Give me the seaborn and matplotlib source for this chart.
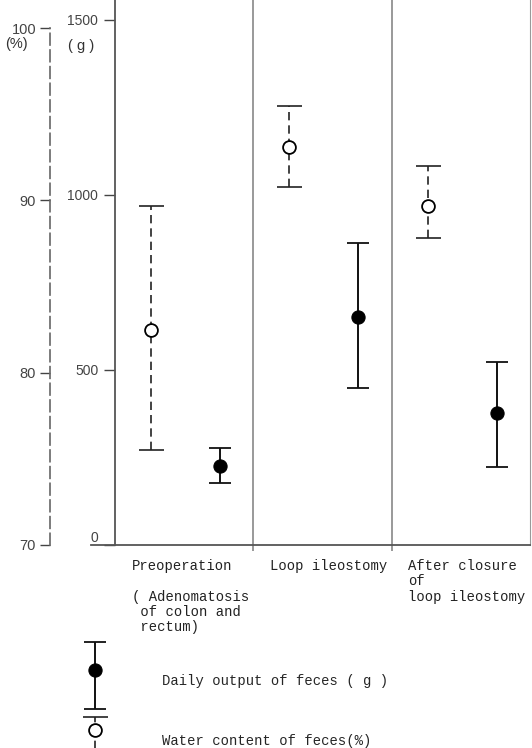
import matplotlib
matplotlib.use("Agg")
import matplotlib.pyplot as plt
import numpy as np
import pandas as pd
import seaborn as sns
from matplotlib.legend_handler import HandlerErrorbar, HandlerTuple

categories = [
    "Preoperation\n\n( Adenomatosis\n of colon and\n rectum)",
    "Loop ileostomy",
    "After closure\nof\nloop ileostomy",
]

# water content of feces (%)
water_mean = [82.5, 93.1, 89.7]
water_low = [75.5, 90.8, 87.8]
water_high = [89.7, 95.5, 92.0]

# daily output of feces (g)
output_mean = [226, 650, 376]
output_low = [177, 449, 224]
output_high = [277, 862, 524]

g_ticks = [0, 500, 1000, 1500]
pct_ticks = [70, 80, 90, 100]

sns.set_style("white")
plt.rcParams["font.family"] = ["Liberation Sans", "DejaVu Sans"]

W, H = 532, 748
fig = plt.figure(figsize=(W / 100, H / 100), dpi=100)
ax = fig.add_axes([115 / W, 203 / H, 415 / W, 545 / H])
ax.set_xlim(0, 3)
ax.set_ylim(0, 1557)

idx = np.arange(len(categories))
x_water = idx + 0.26
x_output = idx + 0.76

# daily output, g axis
out = pd.DataFrame({"x": x_output, "y": output_mean})
sns.scatterplot(data=out, x="x", y="y", ax=ax, color="black", s=90,
                edgecolor="black", linewidth=0.8, zorder=5, legend=False)
om = np.array(output_mean)
eb_out = ax.errorbar(x_output, om,
                     yerr=[om - np.array(output_low), np.array(output_high) - om],
                     fmt="none", ecolor="#111111", elinewidth=1.4,
                     capsize=8, capthick=1.3, zorder=4)

# water content, % axis drawn as an outward dashed spine
ax2 = ax.twinx()
ax2.set_ylim(70, 101.63)
wat = pd.DataFrame({"x": x_water, "y": water_mean})
sns.scatterplot(data=wat, x="x", y="y", ax=ax2, color="white", s=85,
                edgecolor="black", linewidth=1.3, zorder=5, legend=False)
wm = np.array(water_mean)
eb_wat = ax2.errorbar(x_water, wm,
                      yerr=[wm - np.array(water_low), np.array(water_high) - wm],
                      fmt="none", ecolor="#222222", elinewidth=1.2,
                      capsize=9, capthick=1.2, zorder=4)
eb_wat[2][0].set_linestyle((0, (5, 3)))

# separators between groups
ax.vlines([1, 2], -17, 1557, colors="#888888", lw=1.2, clip_on=False)

# spines
ax.spines["top"].set_visible(False)
ax.spines["right"].set_color("#999999")
ax.spines["left"].set_color("#555555")
ax.spines["left"].set_linewidth(1.3)
ax.spines["bottom"].set_color("#555555")
ax.spines["bottom"].set_linewidth(1.3)
ax.spines["bottom"].set_bounds(-0.17, 3)

for s in ["top", "right", "bottom"]:
    ax2.spines[s].set_visible(False)
ax2.spines["left"].set_visible(True)
ax2.spines["left"].set_position(("outward", 46.8))
ax2.spines["left"].set_linestyle((0, (7, 3)))
ax2.spines["left"].set_color("#666666")
ax2.spines["left"].set_linewidth(1.2)
ax2.spines["left"].set_bounds(70, 100)
ax2.yaxis.tick_left()

ax.set_xticks([])
ax.set_xlabel("")
ax.set_ylabel("")
ax2.set_ylabel("")
ax.set_yticks(g_ticks)
ax.tick_params(axis="y", left=True, length=8, width=1, pad=4,
               labelsize=10, colors="#444444")
ax.get_yticklabels()[0].set_verticalalignment("bottom")
ax2.set_yticks(pct_ticks)
ax2.tick_params(axis="y", left=True, right=False, labelleft=True, labelright=False,
                length=7, width=1, pad=3, labelsize=10.5, colors="#444444")

fig.text(5 / W, 1 - 44 / H, "(%)", fontsize=10.5, color="#333333", va="center")
fig.text(68 / W, 1 - 46 / H, "( g )", fontsize=10.5, color="#333333", va="center")

# category labels under each group
for i, lab in enumerate(categories):
    ax.text(i + 0.12, -0.026, lab, transform=ax.get_xaxis_transform(),
            ha="left", va="top", family="Liberation Mono", fontsize=10,
            linespacing=1.12, color="#222222")

# legend
fig.legend(
    [(eb_out, ax.collections[0]), (eb_wat, ax2.collections[0])],
    ["Daily output of feces ( g )", "Water content of feces(%)"],
    loc="upper left", bbox_to_anchor=(88 / W, 1 - 666 / H), frameon=False,
    prop={"family": "Liberation Mono", "size": 10},
    handlelength=1.0, handleheight=3.0, handletextpad=4.3, labelspacing=2.1,
    borderpad=0, borderaxespad=0, scatteryoffsets=[0.5],
    handler_map={eb_out: HandlerErrorbar(yerr_size=2.4),
                 eb_wat: HandlerErrorbar(yerr_size=1.3),
                 tuple: HandlerTuple(ndivide=1)},
)

fig.savefig("out.png", dpi=100)
